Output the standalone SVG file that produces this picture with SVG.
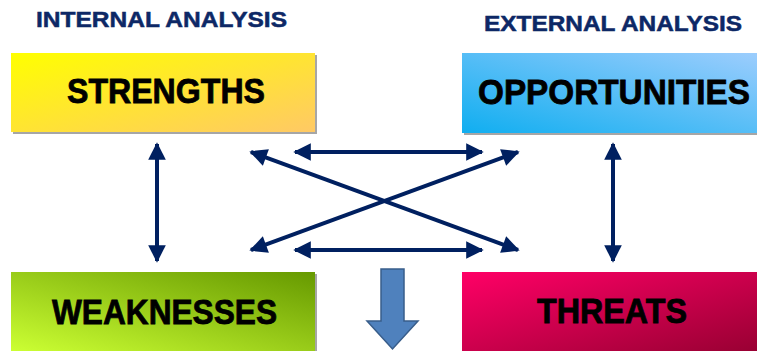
<svg xmlns="http://www.w3.org/2000/svg" width="757" height="351" viewBox="0 0 757 351">
<defs>
<linearGradient id="gS" x1="0" y1="0" x2="1" y2="1"><stop offset="0" stop-color="#ffff00"/><stop offset="1" stop-color="#ffc965"/></linearGradient>
<linearGradient id="gO" x1="0" y1="1" x2="1" y2="0"><stop offset="0" stop-color="#10aef0"/><stop offset="1" stop-color="#9ccdfd"/></linearGradient>
<linearGradient id="gW" x1="0" y1="1" x2="1" y2="0"><stop offset="0" stop-color="#ccff33"/><stop offset="1" stop-color="#669900"/></linearGradient>
<linearGradient id="gT" x1="0" y1="0" x2="1" y2="1"><stop offset="0" stop-color="#ff0066"/><stop offset="1" stop-color="#990033"/></linearGradient>
<marker id="ah" viewBox="0 0 10 10" refX="9" refY="5" markerWidth="5.5" markerHeight="4.4" orient="auto-start-reverse" markerUnits="strokeWidth">
<path d="M0,0 L10,5 L0,10 Z" fill="#002060"/>
</marker>
</defs>
<style>
.hdr{font-family:"Liberation Sans",Arial,sans-serif;font-weight:bold;font-size:21.5px;fill:#0d2866;stroke:#0d2866;stroke-width:0.5}
.lbl{font-family:"Liberation Sans",Arial,sans-serif;font-weight:bold;font-size:35px;fill:#000;stroke:#000;stroke-width:0.8}
.shadow{fill:#a6a6a6}
.con{stroke:#002060;stroke-width:4;fill:none;marker-start:url(#ah);marker-end:url(#ah)}
</style>
<text class="hdr" x="36" y="27" textLength="251" lengthAdjust="spacingAndGlyphs">INTERNAL ANALYSIS</text>
<text class="hdr" x="484" y="31" textLength="258" lengthAdjust="spacingAndGlyphs">EXTERNAL ANALYSIS</text>
<g id="strengths">
<rect class="shadow" x="13" y="55" width="304" height="79"/>
<rect x="11" y="53" width="304" height="79" fill="url(#gS)"/>
<text class="lbl" x="67" y="103" textLength="198" lengthAdjust="spacingAndGlyphs">STRENGTHS</text>
</g>
<g id="opportunities">
<rect class="shadow" x="464" y="55" width="295" height="80"/>
<rect x="462" y="53" width="295" height="80" fill="url(#gO)"/>
<text class="lbl" x="478" y="104" textLength="272" lengthAdjust="spacingAndGlyphs">OPPORTUNITIES</text>
</g>
<g id="weaknesses">
<rect class="shadow" x="13" y="274" width="304" height="79"/>
<rect x="11" y="272" width="304" height="79" fill="url(#gW)"/>
<text class="lbl" x="52" y="324" textLength="225" lengthAdjust="spacingAndGlyphs">WEAKNESSES</text>
</g>
<g id="threats">
<rect x="462" y="272" width="295" height="79" fill="url(#gT)"/>
<text class="lbl" x="537" y="323" textLength="150" lengthAdjust="spacingAndGlyphs">THREATS</text>
</g>
<g id="down-arrow">
<path d="M381,269 L404,269 L404,321 L418,321 L392.5,349 L367,321 L381,321 Z" fill="#4f81bd" stroke="#385d8a" stroke-width="1.5"/>
</g>
<g id="connectors">
<line class="con" x1="157" y1="144" x2="157" y2="261"/>
<line class="con" x1="613" y1="144" x2="613" y2="261"/>
<line class="con" x1="295" y1="152" x2="482" y2="152"/>
<line class="con" x1="295" y1="250" x2="482" y2="250"/>
<line class="con" x1="251" y1="152" x2="518" y2="250"/>
<line class="con" x1="251" y1="250" x2="518" y2="152"/>
</g>
</svg>
